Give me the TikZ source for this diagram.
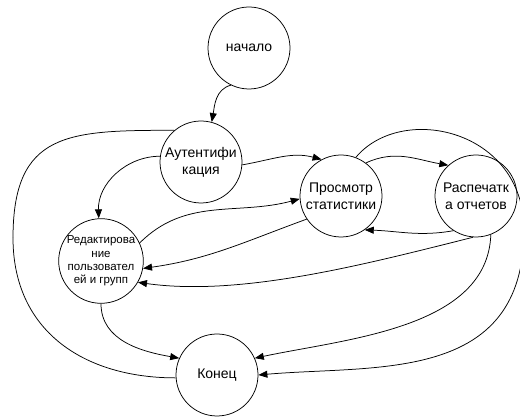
\documentclass[tikz,border=0pt]{standalone}
\usepackage{fontspec}
\setmainfont{Liberation Sans}
\usepackage{tikz}
\usetikzlibrary{automata,positioning,arrows.meta}

\begin{document}
\begin{tikzpicture}[on grid,line width=0.75pt,
  >={Triangle[length=9pt,width=7pt]},
  every state/.style={draw,line width=0.75pt,minimum size=82pt,inner sep=0pt,
    align=center,font=\fontsize{14}{17}\selectfont},
  small state/.style={font=\fontsize{11.5}{13.3}\selectfont}]
  \useasboundingbox (0,0) rectangle (520pt,-419pt);
  \node[state] (start) at (249pt,-48pt) {начало};
  \node[state] (auth) [below left=114pt and 48pt of start] {Аутентифи\\кация};
  \node[state] (view) [below right=34pt and 140pt of auth] {Просмотр\\статистики};
  \node[state] (print) [right=135pt of view] {Распечатк\\а отчетов};
  \node[state,small state] (edit) [below left=99pt and 100pt of auth]
    {Редактирова\\ние\\пользовател\\ей и групп};
  \node[state] (end) [below right=114pt and 116pt of edit] {Конец};
  \coordinate (lbend) at (13pt,-238pt);
  \coordinate (rbend) at (524pt,-230pt);
  \path[->]
  (start.244)
  edge [out=195,in=80] (auth.75)
  (auth.356)
  edge [out=10,in=165] (view.118)
  (auth.172)
  edge [out=180,in=92] (edit.93)
  (auth.130)
  edge [-,out=180,in=90,looseness=1.4] (lbend)
  (lbend)
  edge [-,out=270,in=180,looseness=1.1] (end.184)
  (edit.270)
  edge [out=270,in=170] (end.156)
  (edit.25)
  edge [out=45,in=195] (view.184)
  (view.214)
  edge [out=200,in=8] (edit.350)
  (view.53)
  edge [out=25,in=170] (print.132)
  (view.69)
  edge [-,out=50,in=90,out looseness=1,in looseness=1.4] (rbend)
  (rbend)
  edge [out=270,in=5,out looseness=1.3] (end.0)
  (print.237)
  edge [out=190,in=358] (view.305)
  (print.266)
  edge [out=194,in=352,looseness=0.8] (edit.330)
  (print.291)
  edge [out=268,in=12,looseness=0.9] (end.24)
  ;
\end{tikzpicture}
\end{document}
